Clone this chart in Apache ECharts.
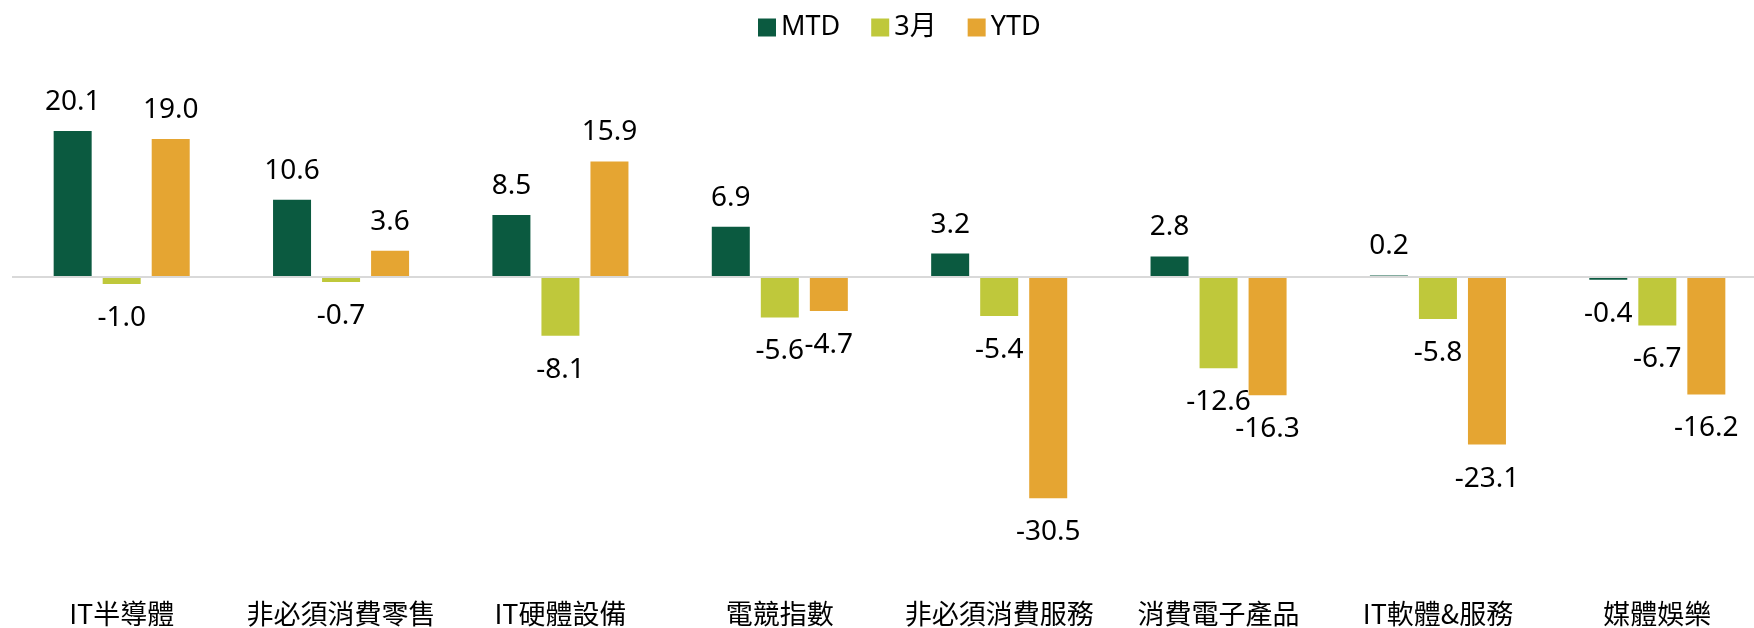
<!DOCTYPE html>
<html>
<head>
<meta charset="utf-8">
<script src="https://cdn.jsdelivr.net/npm/echarts@6/dist/echarts.min.js"></script>
<style>
  html, body { margin: 0; padding: 0; background: #fff; }
  #chart { width: 1754px; height: 628px; }
</style>
</head>
<body>
<div id="chart"></div>
<script>
// 類別
var categories = ['IT半導體', '非必須消費零售', 'IT硬體設備', '電競指數', '非必須消費服務', '消費電子產品', 'IT軟體&服務', '媒體娛樂'];
// 三組數據
var mtdData = [20.1, 10.6, 8.5, 6.9, 3.2, 2.8, 0.2, -0.4];
var marData = [-1.0, -0.7, -8.1, -5.6, -5.4, -12.6, -5.8, -6.7];
var ytdData = [19.0, 3.6, 15.9, -4.7, -30.5, -16.3, -23.1, -16.2];
var seriesNames = ['MTD', '3月', 'YTD'];
var colors = ['#0b5a40', '#bfc83b', '#e5a532'];

var labelFont = '"Noto Sans", "Noto Sans CJK TC", sans-serif';

// 正數標籤在上, 負數標籤在下
function toItems(arr) {
	return arr.map(function (v) {
		return {
			value: v,
			label: v < 0 ? { position: 'bottom', distance: 20 } : { position: 'top', distance: 15 }
		};
	});
}

function makeSeries(name, arr, idx) {
	var s = {
		name: name,
		type: 'bar',
		barWidth: 38,
		barGap: '29%',
		itemStyle: { color: colors[idx] },
		label: {
			show: true,
			color: '#000',
			fontSize: 28,
			fontFamily: labelFont,
			formatter: function (p) { return p.value.toFixed(1); }
		},
		data: toItems(arr)
	};
	if (idx === 0) {
		// 零軸線
		s.markLine = {
			silent: true,
			symbol: 'none',
			label: { show: false },
			lineStyle: { color: '#d9d9d9', type: 'solid', width: 2 },
			data: [{ yAxis: 0 }]
		};
	}
	return s;
}

var chart = echarts.init(document.getElementById('chart'));
chart.setOption({
	animation: false,
	color: colors,
	legend: {
		top: 9,
		left: 753,
		itemWidth: 18,
		itemHeight: 18,
		itemGap: 31,
		icon: 'rect',
		textStyle: { fontSize: 27, color: '#000', fontFamily: labelFont },
		data: seriesNames
	},
	grid: {
		top: 59,
		left: 12,
		width: 1755,
		height: 472,
		containLabel: false,
		outerBoundsMode: 'none'
	},
	xAxis: {
		type: 'category',
		data: categories,
		axisLine: { show: false, onZero: false },
		axisTick: { show: false },
		splitLine: { show: false },
		axisLabel: {
			interval: 0,
			margin: 69,
			fontSize: 27,
			color: '#000',
			fontFamily: '"Noto Sans CJK TC", "Noto Sans", sans-serif'
		}
	},
	yAxis: {
		type: 'value',
		min: -35,
		max: 30,
		show: false,
		splitLine: { show: false }
	},
	series: [
		makeSeries(seriesNames[0], mtdData, 0),
		makeSeries(seriesNames[1], marData, 1),
		makeSeries(seriesNames[2], ytdData, 2)
	]
});
</script>
</body>
</html>
